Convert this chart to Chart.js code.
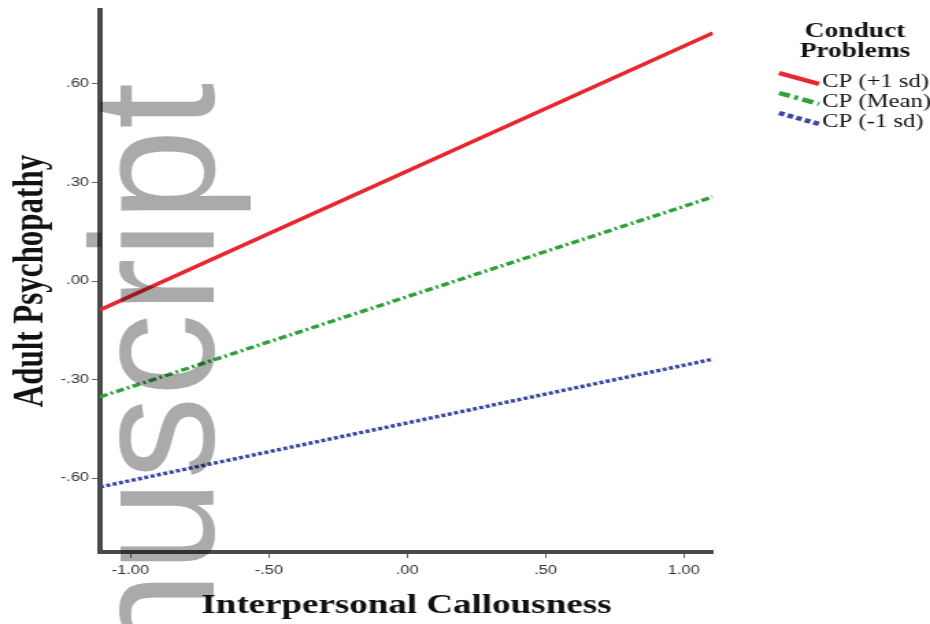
<!DOCTYPE html>
<html>
<head>
<meta charset="utf-8">
<script src="https://cdn.jsdelivr.net/npm/chart.js@4"></script>
<style>
html, body { margin: 0; padding: 0; background: #fff; overflow: hidden; }
/* the original figure is stretched sideways, so the chart is drawn narrower and widened */
#wrap { width: 679px; height: 624px; transform: scaleX(1.3697); transform-origin: 0 0; }
</style>
</head>
<body>
<div id="wrap"><canvas id="grafico"></canvas></div>
<script>
const S = 930 / 679;

// Dados
const seriesNames = ['CP (+1 sd)', 'CP (Mean)', 'CP (-1 sd)'];
const xValues = [-1.11, 1.105];             // Interpersonal Callousness
const cpHigh = [-0.088, 0.755];
const cpMean = [-0.353, 0.256];
const cpLow = [-0.627, -0.238];
const xTicks = [-1, -0.5, 0, 0.5, 1];
const xTickLabels = ['-1.00', '-.50', '.00', '.50', '1.00'];
const yTicks = [-0.6, -0.3, 0, 0.3, 0.6];
const yTickLabels = ['-.60', '-.30', '.00', '.30', '.60'];

const pts = vals => vals.map((v, i) => ({ x: xValues[i], y: v }));

// legenda desenhada à mão (título em duas linhas)
const legendaPlugin = {
  id: 'legenda',
  afterDraw(chart) {
    const ctx = chart.ctx;
    ctx.save();
    ctx.fillStyle = '#111';
    ctx.textAlign = 'center';
    ctx.textBaseline = 'alphabetic';
    ctx.font = 'bold 20px "Liberation Serif"';
    ctx.fillText('Conduct', 855 / S, 37);
    ctx.fillText('Problems', 855 / S, 57);
    ctx.font = '18px "Liberation Serif"';
    ctx.textAlign = 'left';
    chart.data.datasets.forEach((ds, i) => {
      const base = 87 + i * 20;
      ctx.strokeStyle = ds.borderColor;
      ctx.lineWidth = 4.5;
      ctx.setLineDash((ds.borderDash || []).map(d => d * 1.4));
      ctx.beginPath();
      ctx.moveTo(779 / S, base - 14);
      ctx.lineTo(819 / S, base - 3);
      ctx.stroke();
      ctx.setLineDash([]);
      ctx.fillText(ds.label, 822 / S, base);
    });
    ctx.restore();
  }
};

// marca d'água "Manuscript"
const marcaPlugin = {
  id: 'marca',
  afterDraw(chart) {
    const ctx = chart.ctx;
    ctx.save();
    ctx.globalCompositeOperation = 'multiply';
    ctx.fillStyle = '#aaaaaa';
    ctx.translate(213 / S, 83);
    ctx.scale(1.05 / S, 1);
    ctx.rotate(-Math.PI / 2);
    ctx.font = '166px "Liberation Sans"';
    ctx.textAlign = 'right';
    ctx.textBaseline = 'alphabetic';
    ctx.fillText('Manuscript', 0, 0);
    ctx.restore();
  }
};

const tickFont = { family: '"Liberation Sans", Arial', size: 12 };

new Chart(document.getElementById('grafico'), {
  type: 'line',
  data: {
    datasets: [
      { label: seriesNames[0], data: pts(cpHigh), borderColor: '#e8282f', borderWidth: 3.5, borderDash: [] },
      { label: seriesNames[1], data: pts(cpMean), borderColor: '#2fa33b', borderWidth: 3.5, borderDash: [6, 2.5, 2, 2.5] },
      { label: seriesNames[2], data: pts(cpLow), borderColor: '#3b4aa0', borderWidth: 3.5, borderDash: [3, 1.8] }
    ]
  },
  options: {
    responsive: true,
    maintainAspectRatio: false,
    animation: false,
    events: [],
    layout: { padding: { left: 0, top: 10, right: 158.5, bottom: 0 } },
    elements: { point: { radius: 0 }, line: { tension: 0, borderCapStyle: 'butt' } },
    plugins: { legend: { display: false }, tooltip: { enabled: false } },
    scales: {
      x: {
        type: 'linear',
        min: xValues[0],
        max: xValues[1],
        afterBuildTicks: s => { s.ticks = xTicks.map(v => ({ value: v })); },
        afterFit: s => { s.height = 72; },
        ticks: {
          callback: v => xTickLabels[xTicks.indexOf(v)],
          font: tickFont, color: '#333', padding: 5, maxRotation: 0
        },
        grid: { drawOnChartArea: false, tickLength: 6, color: '#666' },
        border: { color: '#4a4a4a', width: 4 },
        title: {
          display: true, text: 'Interpersonal Callousness', color: '#111',
          font: { family: '"Liberation Serif"', weight: 'bold', size: 27 },
          padding: { top: 0, bottom: 2 }
        }
      },
      y: {
        min: -0.825,
        max: 0.825,
        afterBuildTicks: s => { s.ticks = yTicks.map(v => ({ value: v })); },
        afterFit: s => { s.width = 73; },
        ticks: {
          callback: v => yTickLabels[yTicks.indexOf(v)],
          font: tickFont, color: '#333', padding: 2
        },
        grid: { drawOnChartArea: false, tickLength: 6, color: '#666' },
        border: { color: '#4a4a4a', width: 4 },
        title: {
          display: true, text: 'Adult Psychopathy', color: '#111',
          font: { family: '"Liberation Serif"', weight: 'bold', size: 31 },
          padding: { top: 4, bottom: 0 }
        }
      }
    }
  },
  plugins: [legendaPlugin, marcaPlugin]
});
</script>
</body>
</html>
